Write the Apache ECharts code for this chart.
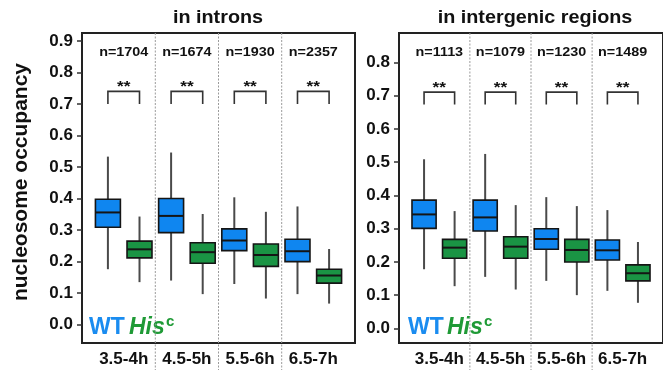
<!DOCTYPE html>
<html><head><meta charset="utf-8">
<script src="https://cdn.jsdelivr.net/npm/echarts@6/dist/echarts.min.js"></script>
<style>html,body{margin:0;padding:0;background:#fff}#c{width:663px;height:370px}</style>
</head><body><div id="c"></div>
<script>
const groups = ['3.5-4h', '4.5-5h', '5.5-6h', '6.5-7h'];
const intronN = [1704, 1674, 1930, 2357];
const interN = [1113, 1079, 1230, 1489];
// each box: [lower whisker, Q1, median, Q3, upper whisker]
const intronWT = [[0.176, 0.309, 0.356, 0.398, 0.533], [0.140, 0.292, 0.345, 0.400, 0.546], [0.129, 0.235, 0.267, 0.304, 0.404], [0.097, 0.200, 0.233, 0.271, 0.375]];
const intronHis = [[0.135, 0.212, 0.239, 0.265, 0.343], [0.097, 0.195, 0.230, 0.260, 0.351], [0.083, 0.185, 0.221, 0.256, 0.358], [0.067, 0.132, 0.156, 0.176, 0.240]];
const interWT = [[0.178, 0.301, 0.343, 0.386, 0.509], [0.155, 0.293, 0.334, 0.386, 0.525], [0.143, 0.238, 0.269, 0.300, 0.395], [0.113, 0.206, 0.235, 0.266, 0.356]];
const interHis = [[0.127, 0.211, 0.243, 0.268, 0.353], [0.117, 0.211, 0.246, 0.276, 0.371], [0.100, 0.200, 0.236, 0.268, 0.368], [0.077, 0.143, 0.166, 0.191, 0.260]];
const intronTicks = [0, 0.1, 0.2, 0.3, 0.4, 0.5, 0.6, 0.7, 0.8, 0.9];
const interTicks = [0, 0.1, 0.2, 0.3, 0.4, 0.5, 0.6, 0.7, 0.8];
const intronBracket = [0.700, 0.740];   // leg bottom, bar top
const interBracket = [0.674, 0.711];
const intronNLabelY = 0.862;
const interNLabelY = 0.829;
const intronRange = [-0.058, 0.925];
const interRange = [-0.044, 0.889];
const sigText = '**';

const FONT = "'Liberation Sans', Arial, Helvetica, sans-serif";
const BLUE = '#0f86f0';
const GREEN = '#1a9444';
const BOX_W = 0.79;
const SX = 1.15;

function boxData(wt, his) {
  const out = [];
  for (let i = 0; i < wt.length; i++) {
    out.push([2 * i + 1].concat(wt[i], [0]));
    out.push([2 * i + 2].concat(his[i], [1]));
  }
  return out;
}
function renderBox(params, api) {
  const x = api.value(0);
  const lo = api.coord([x, api.value(1)]);
  const q1 = api.coord([x, api.value(2)]);
  const md = api.coord([x, api.value(3)]);
  const q3 = api.coord([x, api.value(4)]);
  const hi = api.coord([x, api.value(5)]);
  const w = api.size([BOX_W, 0])[0];
  const col = api.value(6) === 0 ? BLUE : GREEN;
  const cx = lo[0];
  return {
    type: 'group',
    children: [
      { type: 'line', shape: { x1: cx, y1: hi[1], x2: cx, y2: q3[1] }, style: { stroke: '#4a4a4a', lineWidth: 2 } },
      { type: 'line', shape: { x1: cx, y1: q1[1], x2: cx, y2: lo[1] }, style: { stroke: '#4a4a4a', lineWidth: 2 } },
      { type: 'rect', shape: { x: cx - w / 2, y: q3[1], width: w, height: q1[1] - q3[1] }, style: { fill: col, stroke: '#151515', lineWidth: 1.6 } },
      { type: 'line', shape: { x1: cx - w / 2, y1: md[1], x2: cx + w / 2, y2: md[1] }, style: { stroke: '#151515', lineWidth: 2 } }
    ]
  };
}
function renderDivider(params, api) {
  const x = api.value(0);
  const top = api.coord([x, api.value(1)]);
  return { type: 'line', shape: { x1: top[0], y1: top[1], x2: top[0], y2: api.getHeight() },
    style: { stroke: '#9a9a9a', lineWidth: 1, lineDash: [2, 1.5] } };
}
function renderBracket(params, api) {
  const x1 = api.value(0), x2 = api.value(1);
  const a = api.coord([x1, api.value(2)]);
  const b = api.coord([x1, api.value(3)]);
  const c = api.coord([x2, api.value(3)]);
  const d = api.coord([x2, api.value(2)]);
  return {
    type: 'group',
    children: [
      { type: 'polyline', shape: { points: [a, b, c, d] }, style: { stroke: '#333', lineWidth: 1.6, fill: null } },
      { type: 'text', x: (b[0] + c[0]) / 2, y: b[1] - 4, scaleX: SX, style: { text: sigText, align: 'center', verticalAlign: 'middle', font: 'bold 15px ' + FONT, fill: '#111' } }
    ]
  };
}
function renderN(params, api) {
  const p = api.coord([api.value(0), api.value(1)]);
  return { type: 'text', x: p[0], y: p[1], scaleX: SX, style: { text: 'n=' + api.value(2), align: 'center', verticalAlign: 'middle', font: 'bold 12.5px ' + FONT, fill: '#111' } };
}

function panelSeries(idx, wt, his, nArr, br, nY, range) {
  const centers = groups.map((g, i) => 2 * i + 1.5);
  return [
    { type: 'custom', xAxisIndex: idx, yAxisIndex: idx, renderItem: renderDivider, silent: true, z: 1,
      data: [2.5, 4.5, 6.5].map(v => [v, range[1]]) },
    { type: 'custom', xAxisIndex: idx, yAxisIndex: idx, renderItem: renderBox, silent: true, z: 3,
      encode: { x: 0, y: [1, 5] }, data: boxData(wt, his) },
    { type: 'custom', xAxisIndex: idx, yAxisIndex: idx, renderItem: renderBracket, silent: true, z: 3,
      data: groups.map((g, i) => [2 * i + 1, 2 * i + 2, br[0], br[1]]) },
    { type: 'custom', xAxisIndex: idx, yAxisIndex: idx, renderItem: renderN, silent: true, z: 3,
      data: centers.map((c, i) => [c, nY, nArr[i]]) }
  ];
}

function xAxis(gi) {
  return {
    type: 'value', gridIndex: gi, min: 0.18, max: 8.82,
    axisLine: { show: false }, axisTick: { show: false }, splitLine: { show: false },
    axisLabel: { customValues: [1.5, 3.5, 5.5, 7.5], formatter: v => groups[Math.round((v - 1.5) / 2)],
      margin: 8, fontFamily: FONT, fontWeight: 'bold', fontSize: 17, color: '#111' }
  };
}
function yAxis(gi, range, ticks) {
  return {
    type: 'value', gridIndex: gi, min: range[0], max: range[1],
    axisLine: { show: false }, splitLine: { show: false },
    axisTick: { show: true, customValues: ticks, length: 5, lineStyle: { color: '#333', width: 1.5 } },
    axisLabel: { customValues: ticks, formatter: v => v.toFixed(1), margin: 9,
      fontFamily: FONT, fontWeight: 'bold', fontSize: 17, color: '#111' }
  };
}

const chart = echarts.init(document.getElementById('c'), null, { renderer: 'canvas' });
chart.setOption({
  animation: false,
  backgroundColor: '#fff',
  grid: [
    { left: 82, top: 33, width: 273, height: 310, show: true, borderColor: '#222', borderWidth: 2, backgroundColor: 'transparent' },
    { left: 399, top: 33, width: 273, height: 310, show: true, borderColor: '#222', borderWidth: 2, backgroundColor: 'transparent' }
  ],
  xAxis: [xAxis(0), xAxis(1)],
  yAxis: [yAxis(0, intronRange, intronTicks), yAxis(1, interRange, interTicks)],
  series: panelSeries(0, intronWT, intronHis, intronN, intronBracket, intronNLabelY, intronRange)
    .concat(panelSeries(1, interWT, interHis, interN, interBracket, interNLabelY, interRange)),
  graphic: [
    { type: 'text', x: 218, y: 18, scaleX: 1.1, style: { text: 'in introns', align: 'center', verticalAlign: 'middle', font: 'bold 18px ' + FONT, fill: '#111' } },
    { type: 'text', x: 535, y: 18, scaleX: 1.1, style: { text: 'in intergenic regions', align: 'center', verticalAlign: 'middle', font: 'bold 18px ' + FONT, fill: '#111' } },
    { type: 'text', x: 21, y: 182, rotation: Math.PI / 2, style: { text: 'nucleosome occupancy', align: 'center', verticalAlign: 'middle', font: 'bold 21px ' + FONT, fill: '#111' } },
    { type: 'text', x: 89, y: 328, style: { text: 'WT', align: 'left', verticalAlign: 'middle', font: 'bold 23px ' + FONT, fill: '#1a8cf0' } },
    { type: 'text', x: 129, y: 328, style: { text: 'His', align: 'left', verticalAlign: 'middle', font: 'italic bold 23px ' + FONT, fill: '#1f9a36' } },
    { type: 'text', x: 166, y: 322, style: { text: 'c', align: 'left', verticalAlign: 'middle', font: 'bold 15px ' + FONT, fill: '#1f9a36' } },
    { type: 'text', x: 408, y: 328, style: { text: 'WT', align: 'left', verticalAlign: 'middle', font: 'bold 23px ' + FONT, fill: '#1a8cf0' } },
    { type: 'text', x: 447, y: 328, style: { text: 'His', align: 'left', verticalAlign: 'middle', font: 'italic bold 23px ' + FONT, fill: '#1f9a36' } },
    { type: 'text', x: 484, y: 322, style: { text: 'c', align: 'left', verticalAlign: 'middle', font: 'bold 15px ' + FONT, fill: '#1f9a36' } }
  ]
});
</script></body></html>
